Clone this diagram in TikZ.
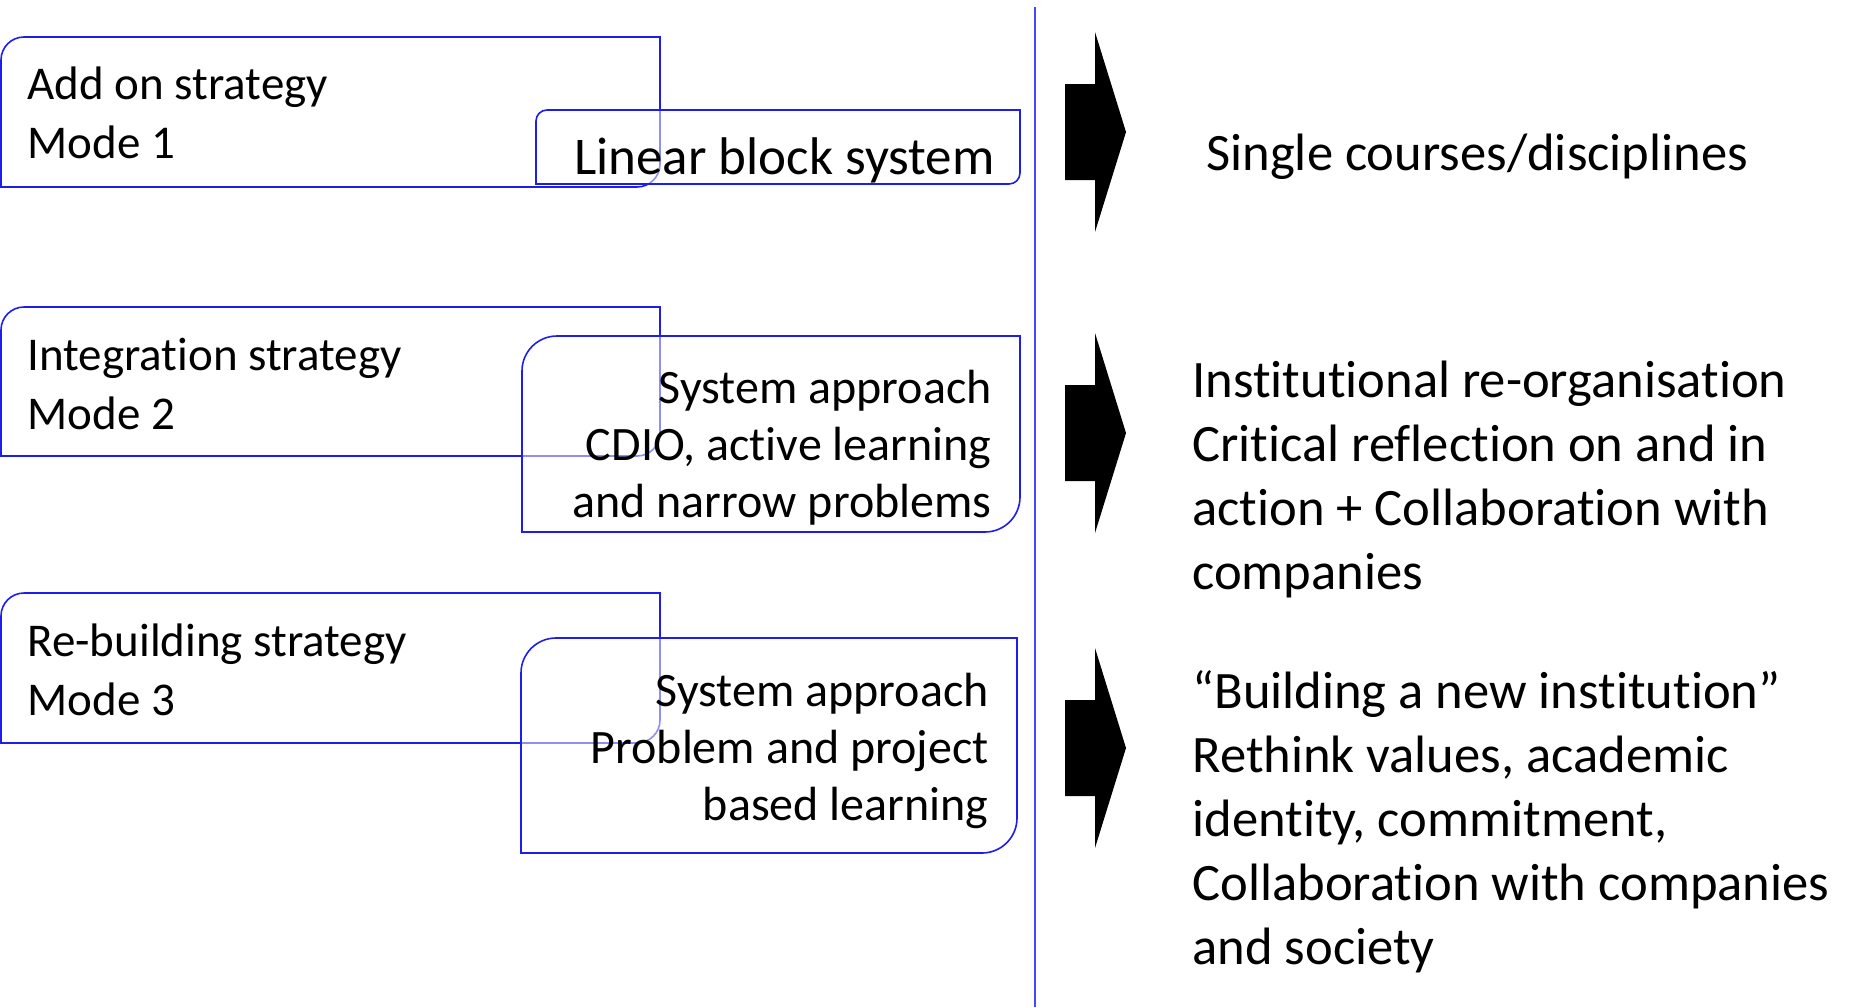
\documentclass[tikz,border=0pt]{standalone}
\usepackage{fontspec}
\setmainfont{Carlito}[Ligatures=NoCommon]

\definecolor{boxline}{RGB}{30,30,235}
\definecolor{midline}{RGB}{70,70,250}

% box with rounded top-left and bottom-right corners: [opts]{x1}{y1}{x2}{y2}{radius}
\newcommand{\cornerbox}[6][]{%
  \draw[boxline, line width=0.8pt, #1] (#2,#5) -- (#2,#3+#6)
    arc[start angle=180, end angle=270, radius=#6] -- (#4,#3) -- (#4,#5-#6)
    arc[start angle=0, end angle=90, radius=#6] -- cycle;
}

\tikzset{
  modelbl/.style={anchor=west, align=left, inner sep=0pt, font=\fontsize{23.5}{29.5}\selectfont},
  syslbl/.style={anchor=east, align=right, inner sep=0pt, font=\fontsize{24}{28.5}\selectfont},
  outlbl/.style={anchor=west, align=left, inner sep=0pt, font=\fontsize{26.3}{32}\selectfont},
  overlap/.style={fill=white, fill opacity=0.5}
}

\begin{document}
\begin{tikzpicture}[x=0.5pt, y=-0.5pt]
    \useasboundingbox (0,0) rectangle (1857,1007);

    % strategy boxes and the systems laid over them
    \cornerbox{1}{37}{660}{187}{23}
    \cornerbox[overlap]{536}{110}{1020}{184}{11}

    \cornerbox{1}{307}{660}{456}{23}
    \cornerbox[overlap]{522}{336}{1020}{532}{35}

    \cornerbox{1}{593}{660}{743}{23}
    \cornerbox[overlap]{521}{638}{1017}{853}{35}

    % labels in the boxes
    \node[modelbl] (addon) at (27,113) {Add on strategy\\Mode 1};
    \node[anchor=base east, inner sep=0pt, font=\fontsize{26.5}{32}\selectfont] (linear) at (995,174) {Linear block system};

    \node[modelbl] (integ) at (27,384) {Integration strategy\\Mode 2};
    \node[syslbl] (sysint) at (992,448) {System approach\\CDIO, active learning\\and narrow problems};

    \node[modelbl] (rebuild) at (27,670) {Re-building strategy\\Mode 3};
    \node[syslbl] (syspbl) at (989,751) {System approach\\Problem and project\\based learning};

    % divider
    \draw[midline, line width=1pt] (1035,7) -- (1035,1007);

    % block arrows
    \foreach \cy in {132,433,748} {
        \fill[black] (1065,\cy-48) -- (1095,\cy-48) -- (1095,\cy-100) -- (1126,\cy)
            -- (1095,\cy+100) -- (1095,\cy+48) -- (1065,\cy+48) -- cycle;
    }

    % outcomes
    \node[outlbl] (single) at (1206,157) {Single courses/disciplines};
    \node[outlbl] (reorg) at (1192,479) {Institutional re-organisation\\Critical reflection on and in\\action + Collaboration with\\companies};
    \node[outlbl] (newinst) at (1192,822) {“Building a new institution”\\Rethink values, academic\\identity, commitment,\\Collaboration with companies\\and society};

\end{tikzpicture}
\end{document}
